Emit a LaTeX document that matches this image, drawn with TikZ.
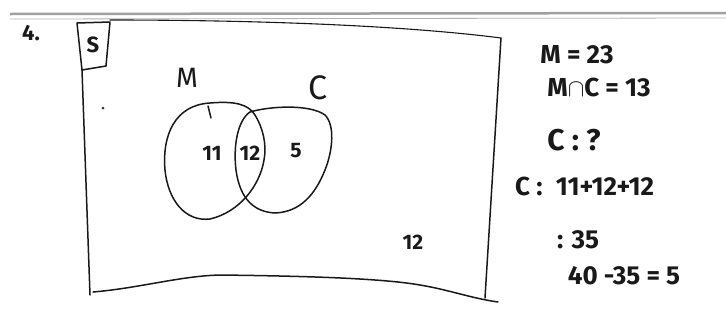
\documentclass[tikz,border=0pt]{standalone}
\usepackage{fontspec}
\setmainfont{Fira Sans}
\begin{document}
\begin{tikzpicture}[x=1pt,y=-1pt,
  ink/.style={draw=black!90,line width=1.5pt,line cap=round,line join=round},
  hw/.style={font=\fontsize{26}{28}\selectfont\bfseries,text=black!90,inner sep=0pt},
  hwsmall/.style={font=\fontsize{21}{23}\selectfont\bfseries,text=black!90,inner sep=0pt},
  hwbig/.style={font=\fontsize{34}{36}\selectfont,text=black!90,inner sep=0pt}]
\useasboundingbox (0,0) rectangle (726,327);
% page header line
\draw[gray!75,line width=2.5pt] (10,14) -- (726,13);
\draw[gray!60,line width=0.8pt] (10,19) -- (726,18);
% question number
\node[hw,font=\fontsize{22}{24}\selectfont\bfseries] (num) at (31,33) {4.};
% S box
\draw[ink] (77,23) -- (110,22) -- (106,66) -- (82,70) -- cycle;
\node[hw,font=\fontsize{22}{24}\selectfont\bfseries] (s) at (93,45) {S};
% universe rectangle
\draw[ink] (82,70) -- (90,295);
\draw[ink] (93,292) .. controls (140,288) and (180,276) .. (220,275)
  .. controls (300,276) and (380,278) .. (420,285)
  .. controls (450,290) and (470,298) .. (498,302);
\draw[ink,line width=1.1pt] (110,20) .. controls (250,20) and (400,25) .. (501,38);
\draw[ink] (501,38) -- (485,298);
% Venn sets
\draw[ink] (210,103) .. controls (235,101) and (248,104) .. (255,115)
  .. controls (263,128) and (267,145) .. (264,160)
  .. controls (260,185) and (240,212) .. (210,219)
  .. controls (185,222) and (168,200) .. (165,170)
  .. controls (162,135) and (175,105) .. (210,103);
\draw[ink] (208,106) -- (211,118);
\draw[ink] (250,112) .. controls (270,106) and (310,104) .. (325,115)
  .. controls (335,125) and (333,150) .. (325,170)
  .. controls (315,195) and (300,212) .. (275,213)
  .. controls (255,212) and (240,200) .. (236,170)
  .. controls (233,145) and (238,120) .. (250,112);
\fill[black!80] (103,108) circle (1.5);
\node[hw,font=\fontsize{28}{30}\selectfont] (lm) at (187,78) {M};
\node[hwbig] (lc) at (318,88) {C};
\node[hwsmall] (a) at (212,153) {11};
\node[hwsmall] (b) at (250,153) {12};
\node[hwsmall] (c) at (296,151) {5};
\node[hwsmall] (o) at (413,242) {12};
% working
\node[hw] (t1) at (577,55) {M = 23};
\node[hw] (t2) at (599,87) {M$\cap$C = 13};
\node[hw,font=\fontsize{30}{32}\selectfont\bfseries] (t3) at (574,140) {C : ?};
\node[hw,anchor=west] (t4) at (515,186) {C :\; 11+12+12};
\node[hw] (t5) at (578,240) {: 35};
\node[hw] (t6) at (624,276) {40 -35 = 5};
\end{tikzpicture}
\end{document}
